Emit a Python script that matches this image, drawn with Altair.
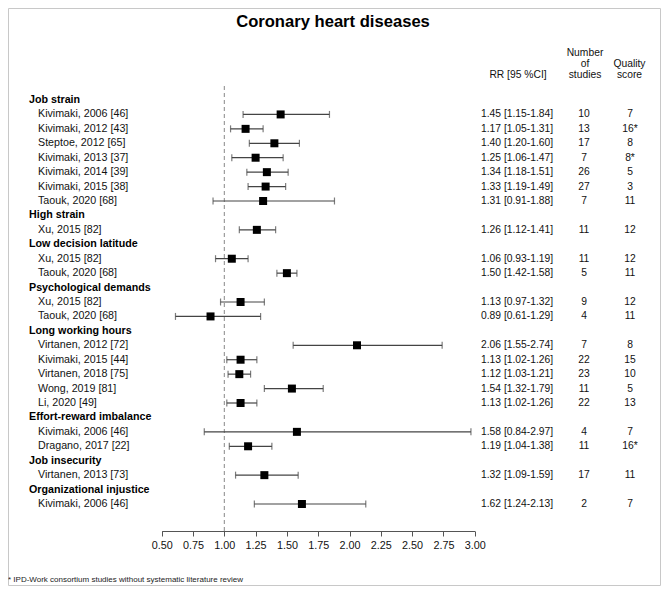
import altair as alt
import pandas as pd

title_text = "Coronary heart diseases"
footnote_text = "* IPD-Work consortium studies without systematic literature review"

groups = ["Job strain", "High strain", "Low decision latitude", "Psychological demands",
          "Long working hours", "Effort-reward imbalance", "Job insecurity",
          "Organizational injustice"]
group_sizes = [7, 1, 2, 2, 5, 2, 1, 1]

studies = ["Kivimaki, 2006 [46]", "Kivimaki, 2012 [43]", "Steptoe, 2012 [65]",
           "Kivimaki, 2013 [37]", "Kivimaki, 2014 [39]", "Kivimaki, 2015 [38]",
           "Taouk, 2020 [68]",
           "Xu, 2015 [82]",
           "Xu, 2015 [82]", "Taouk, 2020 [68]",
           "Xu, 2015 [82]", "Taouk, 2020 [68]",
           "Virtanen, 2012 [72]", "Kivimaki, 2015 [44]", "Virtanen, 2018 [75]",
           "Wong, 2019 [81]", "Li, 2020 [49]",
           "Kivimaki, 2006 [46]", "Dragano, 2017 [22]",
           "Virtanen, 2013 [73]",
           "Kivimaki, 2006 [46]"]
rr = [1.45, 1.17, 1.40, 1.25, 1.34, 1.33, 1.31,
      1.26,
      1.06, 1.50,
      1.13, 0.89,
      2.06, 1.13, 1.12, 1.54, 1.13,
      1.58, 1.19,
      1.32,
      1.62]
ci_low = [1.15, 1.05, 1.20, 1.06, 1.18, 1.19, 0.91,
          1.12,
          0.93, 1.42,
          0.97, 0.61,
          1.55, 1.02, 1.03, 1.32, 1.02,
          0.84, 1.04,
          1.09,
          1.24]
ci_high = [1.84, 1.31, 1.60, 1.47, 1.51, 1.49, 1.88,
           1.41,
           1.19, 1.58,
           1.32, 1.29,
           2.74, 1.26, 1.21, 1.79, 1.26,
           2.97, 1.38,
           1.59,
           2.13]
n_studies = [10, 13, 17, 7, 26, 27, 7,
             11,
             11, 5,
             9, 4,
             7, 22, 23, 11, 22,
             4, 11,
             17,
             2]
quality = ["7", "16*", "8", "8*", "5", "3", "11",
           "12",
           "12", "11",
           "12", "11",
           "8", "15", "10", "5", "13",
           "7", "16*",
           "11",
           "7"]
axis_ticks = [0.50, 0.75, 1.00, 1.25, 1.50, 1.75, 2.00, 2.25, 2.50, 2.75, 3.00]

# ---- build tables ----
label_rows, study_rows = [], []
idx, k = 0, 0
for g, size in zip(groups, group_sizes):
    label_rows.append({"row": idx, "label": g, "kind": "group"})
    idx += 1
    for _ in range(size):
        label_rows.append({"row": idx, "label": studies[k], "kind": "study"})
        study_rows.append({
            "row": idx, "rr": rr[k], "lo": ci_low[k], "hi": ci_high[k],
            "rr_text": f"{rr[k]:.2f} [{ci_low[k]:.2f}-{ci_high[k]:.2f}]",
            "n": str(n_studies[k]), "q": quality[k],
        })
        idx += 1
        k += 1
labels_df = pd.DataFrame(label_rows)
study_df = pd.DataFrame(study_rows)
one = pd.DataFrame({"t": [title_text]})

FONT = "Liberation Sans"
W, H = 653, 523

X = alt.Scale(domain=[0.5, 3.0], range=[153.7, 466.7], nice=False, zero=False)
Y = alt.Scale(domain=[0, idx - 1], range=[92, 496], nice=False, zero=False)
xaxis = alt.Axis(values=axis_ticks, format=".2f", title=None, grid=False,
                 labelFontSize=10.8, labelFont=FONT, labelColor="#111",
                 tickSize=5, tickColor="#555", domainColor="#555", tickWidth=1,
                 domainWidth=1, labelPadding=3, labelFlush=False, labelOverlap=False)
y_enc = alt.Y("row:Q", scale=Y, axis=None)

base = alt.Chart(study_df)

border = alt.Chart(one).mark_rect(fillOpacity=0, stroke="#c8c8c8", strokeWidth=1).encode(
    x=alt.value(0.5), x2=alt.value(W - 0.5), y=alt.value(0.5), y2=alt.value(577.5))

squares = base.mark_square(size=64, color="#000", opacity=1).encode(
    x=alt.X("rr:Q", scale=X, axis=xaxis), y=y_enc)

ci = base.mark_rule(color="#444", strokeWidth=1.2).encode(
    x=alt.X("lo:Q", scale=X, axis=xaxis), x2="hi:Q", y=y_enc)
cap_lo = base.mark_tick(orient="vertical", size=7, thickness=1.2, color="#444").encode(
    x=alt.X("lo:Q", scale=X, axis=xaxis), y=y_enc)
cap_hi = base.mark_tick(orient="vertical", size=7, thickness=1.2, color="#444").encode(
    x=alt.X("hi:Q", scale=X, axis=xaxis), y=y_enc)

ref = alt.Chart(one).mark_rule(color="#888", strokeDash=[4, 3], strokeWidth=1).encode(
    x=alt.X(datum=1.0, type="quantitative", scale=X, axis=xaxis),
    y=alt.value(78), y2=alt.value(H))

group_text = alt.Chart(labels_df).transform_filter(alt.datum.kind == "group").mark_text(
    align="left", baseline="middle", font=FONT, fontSize=10.7, fontWeight="bold", color="#000"
).encode(x=alt.value(21), y=y_enc, text="label:N")
study_text = alt.Chart(labels_df).transform_filter(alt.datum.kind == "study").mark_text(
    align="left", baseline="middle", font=FONT, fontSize=10.7, color="#111"
).encode(x=alt.value(30), y=y_enc, text="label:N")

rr_text = base.mark_text(align="left", baseline="middle", font=FONT, fontSize=10.3,
                         color="#111").encode(x=alt.value(473), y=y_enc, text="rr_text:N")
n_text = base.mark_text(align="center", baseline="middle", font=FONT, fontSize=10.3,
                        color="#111").encode(x=alt.value(576), y=y_enc, text="n:N")
q_text = base.mark_text(align="center", baseline="middle", font=FONT, fontSize=10.3,
                        color="#111").encode(x=alt.value(622), y=y_enc, text="q:N")


def fixed_text(txt, x, y, size=10.3, weight="normal", align="center", color="#111"):
    return alt.Chart(one).mark_text(align=align, baseline="middle", font=FONT,
                                    fontSize=size, fontWeight=weight, color=color).encode(
        x=alt.value(x), y=alt.value(y), text=alt.value(txt))


headers = [
    fixed_text(title_text, 325, 14, size=16.6, weight="bold", color="#000"),
    fixed_text("RR [95 %CI]", 510, 67),
    fixed_text("Number", 577, 44.5),
    fixed_text("of", 577, 55.8),
    fixed_text("studies", 577, 67),
    fixed_text("Quality", 621.5, 55.8),
    fixed_text("score", 621.5, 67),
    fixed_text(footnote_text, 0, 572, size=8, align="left", color="#222"),
]

chart = alt.layer(
    border, ref, ci, cap_lo, cap_hi, squares,
    group_text, study_text, rr_text, n_text, q_text, *headers
).properties(
    width=W, height=H,
    autosize=alt.AutoSizeParams(type="none"),
    padding={"left": 0, "top": 0, "right": 0, "bottom": 55},
).configure_view(stroke=None)

chart.save("out.html", embed_options={"renderer": "svg", "actions": False})
